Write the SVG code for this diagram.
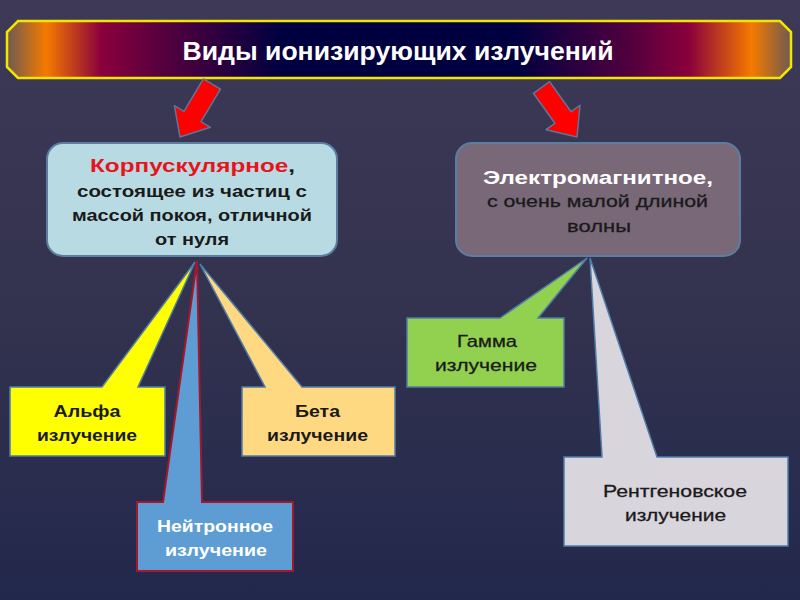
<svg xmlns="http://www.w3.org/2000/svg" width="800" height="600" viewBox="0 0 800 600">
<defs>
<linearGradient id="bg" x1="0" y1="0" x2="0" y2="1">
<stop offset="0" stop-color="#3d3957"/>
<stop offset="0.5" stop-color="#34334f"/>
<stop offset="1" stop-color="#22284c"/>
</linearGradient>
<linearGradient id="ban" x1="0" y1="0" x2="1" y2="0">
<stop offset="0" stop-color="#6e5a52"/>
<stop offset="0.05" stop-color="#f57a00"/>
<stop offset="0.12" stop-color="#8a003c"/>
<stop offset="0.2" stop-color="#55003e"/>
<stop offset="0.35" stop-color="#000040"/>
<stop offset="0.65" stop-color="#000040"/>
<stop offset="0.8" stop-color="#55003e"/>
<stop offset="0.87" stop-color="#8a003c"/>
<stop offset="0.95" stop-color="#f57a00"/>
<stop offset="1" stop-color="#6e5a52"/>
</linearGradient>
<style>
.t{font-family:"Liberation Sans",Arial,sans-serif;text-anchor:middle}
.b{font-weight:bold}
.k{fill:#1a1a1a}
.w{fill:#ffffff}
.arrow{fill:#ff0000;stroke:#5a7799;stroke-width:1.5;stroke-linejoin:round}
.co{stroke:#4f7ca8;stroke-width:1.5;stroke-linejoin:miter}
</style>
</defs>
<rect width="800" height="600" fill="url(#bg)"/>

<g id="title">
<path d="M18,21 L780,21 L791,32 L791,67 L780,78 L18,78 L7,67 L7,32 Z" fill="url(#ban)" stroke="#f2e600" stroke-width="2.5"/>
<text class="t b w" x="398" y="60" font-size="26" textLength="431" lengthAdjust="spacingAndGlyphs">Виды ионизирующих излучений</text>
</g>

<g id="connectors">
<path class="arrow" d="M203.4,78.8 L220.5,89.2 L201,121.7 L210.4,127.3 L180,137 L174.4,105.7 L183.9,111.3 Z"/>
<path class="arrow" d="M533.4,93.3 L549.6,81.7 L571.1,111.7 L580,105.3 L577,137 L546,129.7 L554.9,123.3 Z"/>
</g>

<g id="corpuscular">
<rect x="47" y="143" width="290" height="113" rx="16" fill="#b8dbe3" stroke="#5a7ea0" stroke-width="2"/>
<text class="t b k" x="192.5" y="172" font-size="19" textLength="205" lengthAdjust="spacingAndGlyphs"><tspan fill="#e8141c">Корпускулярное</tspan>,</text>
<text class="t b k" x="192" y="197" font-size="16" textLength="230" lengthAdjust="spacingAndGlyphs">состоящее  из частиц с</text>
<text class="t b k" x="192" y="221" font-size="16" textLength="240" lengthAdjust="spacingAndGlyphs">массой покоя, отличной</text>
<text class="t b k" x="192" y="245" font-size="16" textLength="74" lengthAdjust="spacingAndGlyphs">от нуля</text>
</g>

<g id="electromagnetic">
<rect x="456" y="143" width="284" height="113" rx="16" fill="#796878" stroke="#5a7ea0" stroke-width="2"/>
<text class="t b w" x="598" y="184" font-size="19" textLength="230" lengthAdjust="spacingAndGlyphs">Электромагнитное,</text>
<text class="t k" x="597.5" y="207" font-size="16.5" stroke="#1a1a1a" stroke-width="0.3" textLength="221" lengthAdjust="spacingAndGlyphs">с очень малой длиной</text>
<text class="t k" x="599" y="232" font-size="16.5" stroke="#1a1a1a" stroke-width="0.3" textLength="64" lengthAdjust="spacingAndGlyphs">волны</text>
</g>

<g id="alpha">
<path class="co" d="M10,387 L102,387 L195,262 L138,387 L165,387 L165,456 L10,456 Z" fill="#ffff00"/>
<text class="t b k" x="87" y="417" font-size="17" textLength="67" lengthAdjust="spacingAndGlyphs">Альфа</text>
<text class="t b k" x="87" y="441" font-size="17" textLength="100" lengthAdjust="spacingAndGlyphs">излучение</text>
</g>

<g id="beta">
<path class="co" d="M242,387 L265,387 L200,264 L302,387 L395,387 L395,456 L242,456 Z" fill="#ffd982"/>
<text class="t b k" x="317.5" y="417" font-size="17" textLength="45" lengthAdjust="spacingAndGlyphs">Бета</text>
<text class="t b k" x="317.5" y="441" font-size="17" textLength="101" lengthAdjust="spacingAndGlyphs">излучение</text>
</g>

<g id="neutron">
<path d="M137,502 L163,502 L197,261 L202,502 L293,502 L293,571 L137,571 Z" fill="#5e9dd3" stroke="#a3182c" stroke-width="2"/>
<text class="t b w" x="215" y="532" font-size="17" textLength="116" lengthAdjust="spacingAndGlyphs">Нейтронное</text>
<text class="t b w" x="216" y="556" font-size="17" textLength="102" lengthAdjust="spacingAndGlyphs">излучение</text>
</g>

<g id="gamma">
<path class="co" d="M407,318 L500,318 L587,258 L538,318 L564,318 L564,387 L407,387 Z" fill="#92d050"/>
<text class="t k" x="487" y="347" font-size="17" stroke="#1a1a1a" stroke-width="0.3" textLength="60" lengthAdjust="spacingAndGlyphs">Гамма</text>
<text class="t k" x="486" y="371" font-size="17" stroke="#1a1a1a" stroke-width="0.3" textLength="102" lengthAdjust="spacingAndGlyphs">излучение</text>
</g>

<g id="xray">
<path class="co" d="M564,457 L602,457 L590,258 L657,457 L788,457 L788,546 L564,546 Z" fill="#d9d5dc"/>
<text class="t k" x="675" y="497" font-size="17" stroke="#1a1a1a" stroke-width="0.3" textLength="144" lengthAdjust="spacingAndGlyphs">Рентгеновское</text>
<text class="t k" x="675.5" y="521" font-size="17" stroke="#1a1a1a" stroke-width="0.3" textLength="101" lengthAdjust="spacingAndGlyphs">излучение</text>
</g>
</svg>
